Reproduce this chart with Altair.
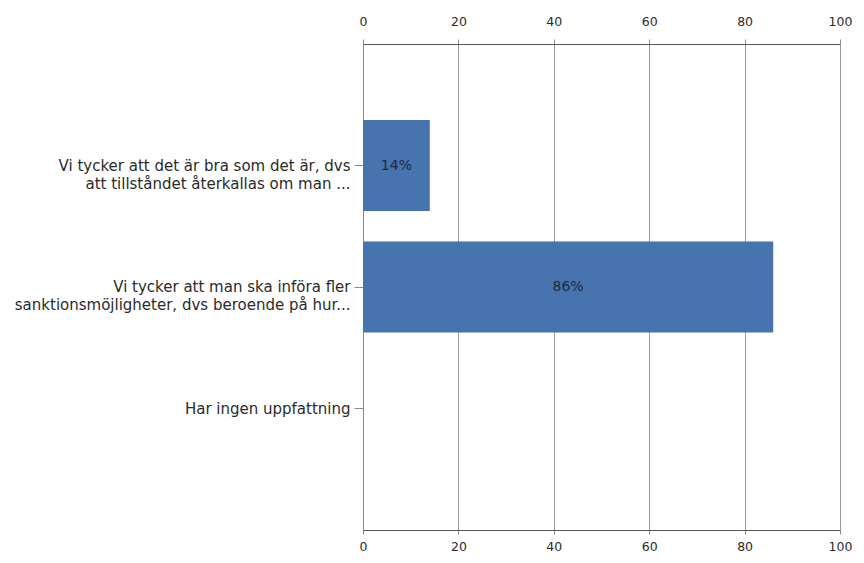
import altair as alt
import pandas as pd

categories = [
    "Vi tycker att det är bra som det är, dvs|att tillståndet återkallas om man ...",
    "Vi tycker att man ska införa fler|sanktionsmöjligheter, dvs beroende på hur...",
    "Har ingen uppfattning",
]
values = [14, 86, 0]
labels = ["14%", "86%", ""]
x_ticks = [0, 20, 40, 60, 80, 100]

df = pd.DataFrame({"cat": categories, "value": values, "label": labels})

FONT = "DejaVu Sans"
xscale = alt.Scale(domain=[0, 100], nice=False)
yscale = alt.Scale(paddingInner=0, paddingOuter=0.5)

yaxis = alt.Axis(
    title=None,
    labelExpr="split(datum.label, '|')",
    labelFont=FONT,
    labelFontSize=15,
    labelColor="#2b2b2b",
    labelLineHeight=18,
    labelPadding=4,
    labelLimit=400,
    tickSize=9,
    tickColor="#8a8a8a",
    domainColor="#8a8a8a",
    grid=False,
)
yenc = alt.Y("cat:N", sort=categories, scale=yscale, axis=yaxis)

bars = alt.Chart(df).mark_bar(
    color="#4773AF", height=alt.RelativeBandSize(0.75)
).encode(
    x=alt.X(
        "value:Q",
        scale=xscale,
        axis=alt.Axis(
            orient="top",
            title=None,
            values=x_ticks,
            labelFont=FONT,
            labelFontSize=12.5,
            labelColor="#2b2b2b",
            labelPadding=11,
            labelFlush=False,
            tickSize=5,
            tickColor="#8a8a8a",
            domainColor="#555555",
            grid=True,
            gridColor="#9a9a9a",
            gridWidth=1,
        ),
    ),
    y=yenc,
)

text = alt.Chart(df).transform_filter(
    "datum.value > 0"
).transform_calculate(
    mid="datum.value / 2"
).mark_text(
    font=FONT, fontSize=14, color="#1c2a3d", align="center", baseline="middle"
).encode(
    x=alt.X(
        "mid:Q",
        scale=xscale,
        axis=alt.Axis(
            orient="bottom",
            title=None,
            values=x_ticks,
            labelFont=FONT,
            labelFontSize=12.5,
            labelColor="#2b2b2b",
            labelPadding=6,
            labelFlush=False,
            tickSize=4,
            tickColor="#8a8a8a",
            domainColor="#555555",
            grid=False,
        ),
    ),
    y=yenc,
    text="label:N",
)

chart = alt.layer(bars, text).resolve_axis(x="independent", y="shared").properties(
    width=477,
    height=486,
    autosize=alt.AutoSizeParams(type="none"),
    padding={"left": 355, "top": 36, "right": 14, "bottom": 22},
).configure_view(stroke=None).configure(background="white")

chart.save("out.html", embed_options={"renderer": "svg", "actions": False})
